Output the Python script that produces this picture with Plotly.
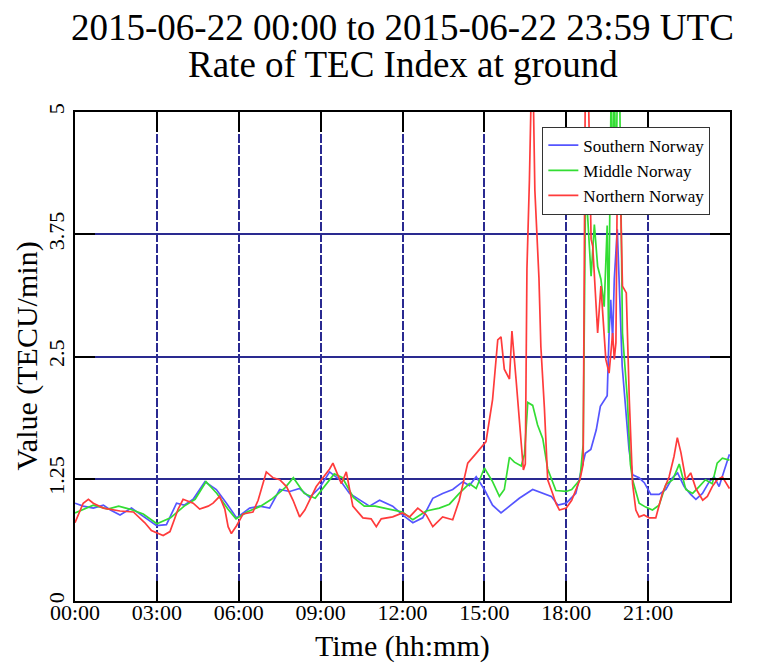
import plotly.graph_objects as go

# Hours since 00:00 UTC and rate-of-TEC index values (TECU/min)
south_hours = [0.0, 0.3, 0.67, 1.04, 1.3, 1.65, 2.07, 2.5, 2.99, 3.35, 3.72, 4.0, 4.33, 4.76, 5.18,
               5.55, 5.92, 6.4, 6.77, 7.13, 7.5, 7.87, 8.23, 8.6, 8.97, 9.33, 9.7, 10.06, 10.43,
               10.79, 11.16, 11.64, 12.0, 12.38, 12.74, 13.11, 13.47, 13.84, 14.21, 14.45, 14.7,
               15.0, 15.3, 15.61, 15.92, 16.28, 16.77, 17.14, 17.45, 17.7, 18.0, 18.35, 18.55,
               18.7, 18.9, 19.1, 19.25, 19.4, 19.5, 19.57, 19.63, 19.7, 19.76, 19.87, 19.95,
               20.05, 20.15, 20.3, 20.43, 20.67, 20.86, 21.1, 21.4, 21.65, 21.89, 22.08, 22.32,
               22.56, 22.75, 22.99, 23.24, 23.42, 23.6, 23.78, 23.98]
south_vals = [1.00, 0.97, 0.95, 0.98, 0.93, 0.88, 0.95, 0.87, 0.77, 0.78, 1.00, 0.98, 1.04, 1.22, 1.14,
              1.00, 0.85, 0.95, 0.97, 0.95, 1.14, 1.12, 1.15, 1.06, 1.16, 1.32, 1.24, 1.10, 1.03,
              0.97, 1.03, 0.97, 0.88, 0.80, 0.85, 1.05, 1.10, 1.14, 1.22, 1.18, 1.27,
              1.14, 0.98, 0.90, 0.97, 1.05, 1.14, 1.10, 1.07, 0.98, 1.00, 1.10, 1.34,
              1.51, 1.55, 1.75, 1.99, 2.06, 2.10, 2.74, 3.08, 2.67, 3.29, 3.80, 3.08,
              2.40, 2.06, 1.55, 1.29, 1.26, 1.21, 1.09, 1.09, 1.14, 1.26, 1.31, 1.17,
              1.09, 1.04, 1.10, 1.22, 1.27, 1.17, 1.33, 1.50]

middle_hours = [0.0, 0.67, 1.2, 1.6, 2.0, 2.5, 3.0, 3.5, 4.0, 4.4, 4.8, 5.2, 5.6, 5.9, 6.3, 6.8,
                7.2, 7.7, 8.0, 8.4, 8.8, 9.2, 9.5, 9.8, 10.2, 10.6, 11.0, 11.5, 12.0, 12.38,
                12.87, 13.35, 13.72, 14.08, 14.45, 14.7, 15.0, 15.3, 15.55, 15.73, 15.92, 16.1,
                16.35, 16.47, 16.59, 16.77, 16.95, 17.14, 17.32, 17.62, 18.0, 18.2, 18.5, 18.62,
                18.7, 18.78, 18.91, 19.03, 19.15, 19.27, 19.39, 19.5, 19.55, 19.6, 19.65, 19.7,
                19.76, 19.82, 19.88, 19.95, 20.06, 20.24, 20.35, 20.43, 20.6, 20.67, 20.91,
                21.16, 21.4, 21.65, 21.9, 22.14, 22.38, 22.63, 22.87, 23.1, 23.35, 23.53,
                23.72, 23.98]
middle_vals = [0.90, 0.98, 0.94, 0.97, 0.94, 0.89, 0.79, 0.85, 0.97, 1.04, 1.22, 1.10, 0.94, 0.84,
               0.91, 0.97, 1.04, 1.16, 1.26, 1.10, 1.05, 1.20, 1.30, 1.26, 1.06, 0.97, 0.97, 0.94,
               0.91, 0.83, 0.92, 0.95, 0.99, 1.10, 1.20, 1.15, 1.36, 1.22, 1.07, 1.14, 1.47, 1.42,
               1.38, 1.50, 2.03, 2.00, 1.80, 1.66, 1.35, 1.13, 1.12, 1.14, 1.24, 1.60,
               3.97, 3.95, 3.32, 3.85, 3.42, 3.29, 3.01, 3.84, 2.74, 4.10, 5.40, 4.00,
               5.40, 4.20, 5.40, 5.40, 2.74, 2.06, 1.40, 1.24, 1.05, 1.00, 0.96,
               0.93, 0.98, 1.19, 1.24, 1.40, 1.14, 1.10, 1.17, 1.24, 1.20, 1.41,
               1.46, 1.44]

north_hours = [0.0, 0.3, 0.49, 0.67, 1.04, 1.65, 2.14, 2.56, 2.8, 3.23, 3.48, 3.78, 3.96, 4.33,
               4.57, 4.88, 5.06, 5.3, 5.49, 5.61, 5.73, 5.92, 6.16, 6.52, 6.71, 7.01, 7.26, 7.5,
               7.75, 7.99, 8.23, 8.42, 8.84, 9.33, 9.45, 9.64, 9.76, 9.94, 10.18, 10.55, 10.85,
               11.04, 11.22, 11.64, 12.0, 12.26, 12.56, 12.87, 13.11, 13.47, 13.84, 14.08,
               14.39, 14.7, 15.06, 15.3, 15.49, 15.61, 15.73, 15.92, 16.01, 16.16, 16.28,
               16.43, 16.5, 16.56, 16.65, 16.73, 16.78, 16.85, 17.0, 17.07, 17.2, 17.32, 17.5,
               17.62, 17.75, 18.0, 18.2, 18.5, 18.62, 18.7, 18.8, 18.91, 18.97, 19.09, 19.15,
               19.27, 19.33, 19.45, 19.57, 19.7, 19.76, 19.82, 19.88, 19.95, 20.06, 20.2,
               20.31, 20.43, 20.55, 20.67, 20.85, 21.04, 21.28, 21.52, 21.77, 21.95, 22.07,
               22.2, 22.38, 22.56, 22.75, 23.0, 23.17, 23.35, 23.53, 23.72, 23.98]
north_vals = [0.80, 1.00, 1.04, 1.00, 0.95, 0.92, 0.91, 0.80, 0.72, 0.67, 0.71, 0.94, 1.04, 1.00,
              0.94, 0.97, 1.00, 1.07, 0.94, 0.76, 0.69, 0.77, 0.89, 0.91, 1.03, 1.32, 1.26, 1.24,
              1.17, 1.03, 0.86, 0.93, 1.17, 1.35, 1.41, 1.29, 1.20, 1.32, 0.97, 0.85, 0.84,
              0.76, 0.84, 0.86, 0.90, 0.86, 0.95, 0.88, 0.76, 0.86, 0.83, 1.03,
              1.41, 1.51, 1.63, 2.06, 2.67, 2.70, 2.37, 2.27, 2.76, 2.27, 1.86,
              1.34, 1.40, 3.40, 4.30, 5.40, 5.40, 4.20, 3.30, 2.60, 1.97, 1.24, 1.10,
              1.00, 0.93, 0.95, 1.03, 1.24, 1.40, 5.40, 5.40, 3.70, 3.63, 3.00, 2.74,
              3.22, 2.95, 2.47, 2.33, 2.74, 2.47, 2.64, 4.60, 4.60, 3.22, 3.15,
              2.06, 1.20, 0.93, 0.86, 0.88, 0.85, 0.85, 1.10, 1.27, 1.48, 1.67,
              1.52, 1.24, 1.31, 1.15, 1.03, 1.07, 1.17, 1.24, 1.27, 1.15]

series_names = ["Southern Norway", "Middle Norway", "Northern Norway"]
series_colors = ["#5555ff", "#33dd33", "#ff3b3b"]

x_tick_vals = [0, 3, 6, 9, 12, 15, 18, 21]
x_tick_text = ["00:00", "03:00", "06:00", "09:00", "12:00", "15:00", "18:00", "21:00"]
y_tick_vals = [0, 1.25, 2.5, 3.75, 5]
y_tick_text = ["0", "1.25", "2.5", "3.75", "5"]

serif = "Liberation Serif"
grid_color = "#2a2a90"

fig = go.Figure()
for hrs, vals, name, color in zip([south_hours, middle_hours, north_hours],
                                  [south_vals, middle_vals, north_vals],
                                  series_names, series_colors):
    fig.add_trace(go.Scatter(x=hrs, y=vals, mode="lines", name=name,
                             line=dict(color=color, width=1.7)))

fig.update_layout(
    width=758, height=664,
    margin=dict(l=75, r=28, t=112, b=63),
    paper_bgcolor="white", plot_bgcolor="white",
    font=dict(family=serif, color="black"),
    showlegend=True,
    legend=dict(x=0.97, y=0.97, xanchor="right", yanchor="top",
                bgcolor="white", bordercolor="#333333", borderwidth=1,
                font=dict(family=serif, size=17, color="black"),
                tracegroupgap=0, itemwidth=30),
    xaxis=dict(range=[0, 24], tickmode="array", tickvals=x_tick_vals, ticktext=x_tick_text,
               showgrid=True, gridcolor=grid_color, gridwidth=1.5, griddash="9px,2px",
               showline=True, linecolor="black", linewidth=2, mirror="ticks",
               ticks="inside", ticklen=20, tickwidth=2, tickcolor="black",
               ticklabelstandoff=-9,
               tickfont=dict(family=serif, size=22, color="black"), zeroline=False),
    yaxis=dict(range=[0, 5], tickmode="array", tickvals=y_tick_vals, ticktext=y_tick_text,
               tickangle=-90,
               showgrid=True, gridcolor=grid_color, gridwidth=1.5,
               showline=True, linecolor="black", linewidth=2, mirror="ticks",
               ticks="inside", ticklen=20, tickwidth=2, tickcolor="black",
               tickfont=dict(family=serif, size=22, color="black"), zeroline=False),
    annotations=[
        dict(text="2015-06-22 00:00 to 2015-06-22 23:59 UTC", x=0.5, y=1.0,
             xref="paper", yref="paper", xanchor="center", yanchor="bottom", yshift=62,
             showarrow=False, font=dict(family=serif, size=37, color="black")),
        dict(text="Rate of TEC Index at ground", x=0.5, y=1.0,
             xref="paper", yref="paper", xanchor="center", yanchor="bottom", yshift=25,
             showarrow=False, font=dict(family=serif, size=37, color="black")),
        dict(text="Time (hh:mm)", x=0.5, y=0, xref="paper", yref="paper",
             xanchor="center", yanchor="top", yshift=-26,
             showarrow=False, font=dict(family=serif, size=30, color="black")),
        dict(text="Value (TECU/min)", x=0, y=0.5, xref="paper", yref="paper",
             xanchor="right", yanchor="middle", xshift=-30, textangle=-90,
             showarrow=False, font=dict(family=serif, size=30, color="black")),
    ],
)

fig.write_html("out.html")
